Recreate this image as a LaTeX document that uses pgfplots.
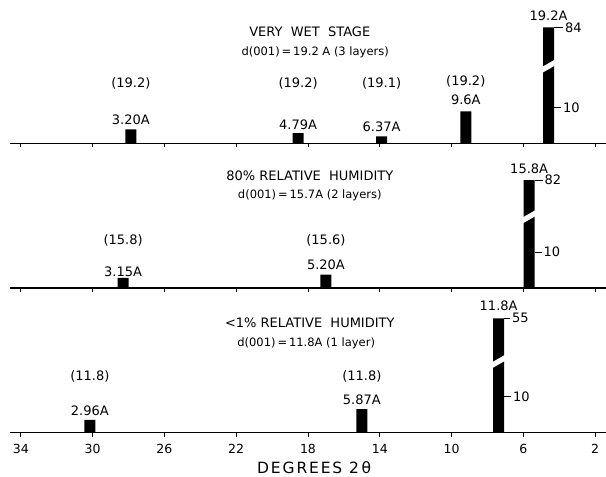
\documentclass[border=0pt]{standalone}
\usepackage{fontspec}
\setmainfont{DejaVu Sans}
\usepackage{pgfplots}
\pgfplotsset{compat=1.18}
\tikzset{
  lab/.style={font=\fontsize{13}{15}\selectfont},
  sub/.style={font=\fontsize{11.5}{13}\selectfont},
  brk/.style={fill=white, draw=none},
}
\pgfplotsset{
  panel/.style={
    scale only axis, width=596pt,
    xmin=1.4, xmax=34.6, x dir=reverse,
    ymin=0,
    axis x line*=bottom, axis y line=none,
    axis line style={line width=1.1pt},
    xtick={2,6,...,34}, xtick align=inside,
    major tick length=4pt,
    major tick style={line width=0.9pt, black},
    ytick=\empty,
    ybar, bar width=11pt,
    clip=false, enlargelimits=false,
    xticklabel style={font=\fontsize{12.5}{14}\selectfont, yshift=-4pt},
    /pgf/number format/assume math mode=true,
    anchor=south west,
  },
}
\begin{document}
\begin{tikzpicture}
\useasboundingbox (0pt,0pt) rectangle (606pt,-477pt);
% ---------------- Panel 1: very wet stage ----------------
\begin{axis}[panel, at={(10pt,-143.3pt)}, height=115.9pt, ymax=84, xticklabels={},
  y coord trafo/.code={\pgfmathparse{#1<=24 ? #1 : 24+(#1-24)*0.1367}},
  y coord inv trafo/.code={\pgfmathparse{#1<=24 ? #1 : 24+(#1-24)/0.1367}}]
\addplot[fill=black, draw=none] coordinates {(27.87,3.9) (18.55,2.8) (13.90,1.9) (9.21,8.9) (4.60,84)};
\node[lab, anchor=base, yshift=5pt] at (axis cs:27.87,3.9) {3.20A};
\node[lab, anchor=base, yshift=4pt] at (axis cs:18.55,2.8) {4.79A};
\node[lab, anchor=base, yshift=5pt] at (axis cs:13.90,1.9) {6.37A};
\node[lab, anchor=base, yshift=6.5pt] at (axis cs:9.21,8.9) {9.6A};
\node[lab, anchor=base, yshift=7pt] at (axis cs:4.60,84) {19.2A};
\node[lab] at ([yshift=60.3pt]axis cs:27.87,0) {(19.2)};
\node[lab] at ([yshift=60.3pt]axis cs:18.55,0) {(19.2)};
\node[lab] at ([yshift=60.3pt]axis cs:13.90,0) {(19.1)};
\node[lab] at ([yshift=61.5pt]axis cs:9.21,0) {(19.2)};
\node[lab] at ([yshift=111.6pt]axis cs:17.9,0) {VERY\ \ WET\ \ STAGE};
\node[sub] at ([yshift=90.6pt]axis cs:17.6,0) {d(001)\,=\,19.2 A (3 layers)};
\fill[brk] ([xshift=-7pt,yshift=-7pt]axis cs:4.60,21.4) -- ([xshift=7pt,yshift=1pt]axis cs:4.60,21.4)
  -- ([xshift=7pt,yshift=7pt]axis cs:4.60,21.4) -- ([xshift=-7pt,yshift=-1pt]axis cs:4.60,21.4) -- cycle;
\draw[line width=1pt] ([xshift=5.5pt]axis cs:4.60,10) -- ([xshift=12.5pt]axis cs:4.60,10) node[lab, anchor=west, inner sep=1.5pt] {10};
\draw[line width=1pt] ([xshift=5.5pt]axis cs:4.60,84) -- ([xshift=14.5pt]axis cs:4.60,84) node[lab, anchor=west, inner sep=1.5pt] {84};
\end{axis}
% ---------------- Panel 2: 80% relative humidity ----------------
\begin{axis}[panel, at={(10pt,-288pt)}, height=108pt, ymax=82, xticklabels={},
  y coord trafo/.code={\pgfmathparse{#1<=24 ? #1 : 24+(#1-24)*0.1034}},
  y coord inv trafo/.code={\pgfmathparse{#1<=24 ? #1 : 24+(#1-24)/0.1034}}]
\addplot[fill=black, draw=none] coordinates {(28.30,2.8) (17.00,3.7) (5.68,82)};
\node[lab, anchor=base, yshift=1.5pt] at (axis cs:28.30,2.8) {3.15A};
\node[lab, anchor=base, yshift=5pt] at (axis cs:17.00,3.7) {5.20A};
\node[lab, anchor=base, yshift=7pt] at (axis cs:5.68,82) {15.8A};
\node[lab] at ([yshift=47.3pt]axis cs:28.30,0) {(15.8)};
\node[lab] at ([yshift=47.3pt]axis cs:17.00,0) {(15.6)};
\node[lab] at ([yshift=112pt]axis cs:17.9,0) {80\%\ RELATIVE\ \ HUMIDITY};
\node[sub] at ([yshift=92.3pt]axis cs:17.9,0) {d(001)\,=\,15.7A (2 layers)};
\fill[brk] ([xshift=-7pt,yshift=-7pt]axis cs:5.68,19.8) -- ([xshift=7pt,yshift=1pt]axis cs:5.68,19.8)
  -- ([xshift=7pt,yshift=7pt]axis cs:5.68,19.8) -- ([xshift=-7pt,yshift=-1pt]axis cs:5.68,19.8) -- cycle;
\draw[line width=1pt] ([xshift=5.5pt]axis cs:5.68,10) -- ([xshift=12.5pt]axis cs:5.68,10) node[lab, anchor=west, inner sep=1.5pt] {10};
\draw[line width=1pt] ([xshift=5.5pt]axis cs:5.68,82) -- ([xshift=13.5pt]axis cs:5.68,82) node[lab, anchor=west, inner sep=1.5pt] {82};
\end{axis}
% ---------------- Panel 3: <1% relative humidity ----------------
\begin{axis}[panel, at={(10pt,-432.5pt)}, height=114.2pt, ymax=55,
  y coord trafo/.code={\pgfmathparse{#1<=24 ? #1 : 24+(#1-24)*0.248}},
  y coord inv trafo/.code={\pgfmathparse{#1<=24 ? #1 : 24+(#1-24)/0.248}}]
\addplot[fill=black, draw=none] coordinates {(30.15,3.5) (15.00,6.5) (7.38,55)};
\node[lab, anchor=base, yshift=4.5pt] at (axis cs:30.15,3.5) {2.96A};
\node[lab, anchor=base, yshift=4.5pt] at (axis cs:15.00,6.5) {5.87A};
\node[lab, anchor=base, yshift=8pt] at (axis cs:7.38,55) {11.8A};
\node[lab] at ([yshift=56.5pt]axis cs:30.15,0) {(11.8)};
\node[lab] at ([yshift=56.5pt]axis cs:15.00,0) {(11.8)};
\node[lab] at ([yshift=109.8pt]axis cs:17.9,0) {\textless1\%\ RELATIVE\ \ HUMIDITY};
\node[sub] at ([yshift=89.2pt]axis cs:18.1,0) {d(001)\,=\,11.8A (1 layer)};
\fill[brk] ([xshift=-7pt,yshift=-7pt]axis cs:7.38,19.7) -- ([xshift=7pt,yshift=1pt]axis cs:7.38,19.7)
  -- ([xshift=7pt,yshift=7pt]axis cs:7.38,19.7) -- ([xshift=-7pt,yshift=-1pt]axis cs:7.38,19.7) -- cycle;
\draw[line width=1pt] ([xshift=5.5pt]axis cs:7.38,10) -- ([xshift=12.5pt]axis cs:7.38,10) node[lab, anchor=west, inner sep=1.5pt] {10};
\draw[line width=1pt] ([xshift=5.5pt]axis cs:7.38,55) -- ([xshift=11.5pt]axis cs:7.38,55) node[lab, anchor=west, inner sep=1.5pt] {55};
\node[font=\fontsize{15.5}{17}\selectfont\addfontfeature{LetterSpace=12}] at ([yshift=-35pt]axis cs:17.66,0) {DEGREES 2\,θ};
\end{axis}
\end{tikzpicture}
\end{document}
